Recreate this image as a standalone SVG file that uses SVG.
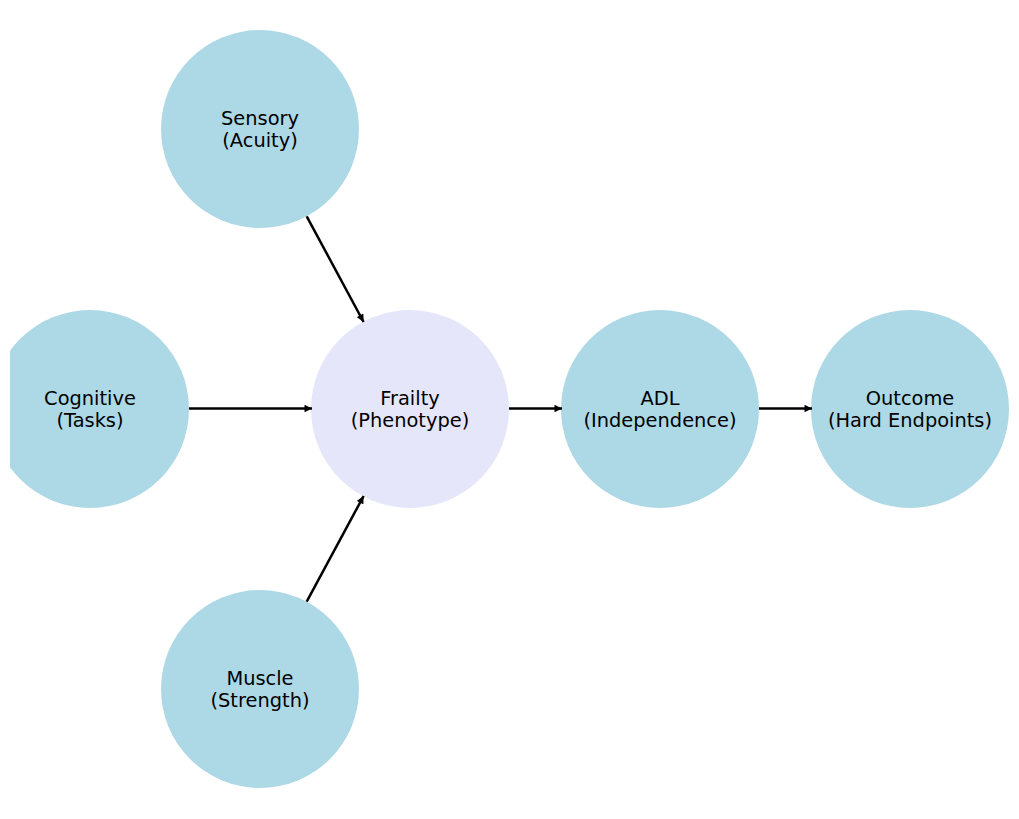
<svg xmlns="http://www.w3.org/2000/svg" width="1019" height="819" viewBox="0 0 1019 819">
<style>
.node{fill:#add8e6}
.center{fill:#e6e6fa}
.lbl{font-family:"DejaVu Sans",sans-serif;font-size:19.4px;fill:#000;text-anchor:middle}
.edge{stroke:#000;stroke-width:2.5;fill:none}
</style>
<defs>
<marker id="ah" viewBox="0 0 10 10" refX="10" refY="5" markerWidth="3.4" markerHeight="3" orient="auto" markerUnits="strokeWidth">
<path d="M0,0 L10,5 L0,10 Z" fill="#000"/>
</marker>
<clipPath id="ax"><rect x="10" y="0" width="1009" height="819"/></clipPath>
</defs>
<rect width="1019" height="819" fill="#fff"/>
<g clip-path="url(#ax)">
<g id="sensory"><circle class="node" cx="260" cy="129" r="99"/><text class="lbl" x="260" y="124.5">Sensory</text><text class="lbl" x="260" y="146.5">(Acuity)</text></g>
<g id="cognitive"><circle class="node" cx="90" cy="409" r="99"/><text class="lbl" x="90" y="404.5">Cognitive</text><text class="lbl" x="90" y="426.5">(Tasks)</text></g>
<g id="frailty"><circle class="center" cx="410" cy="409" r="99"/><text class="lbl" x="410" y="404.5">Frailty</text><text class="lbl" x="410" y="426.5">(Phenotype)</text></g>
<g id="adl"><circle class="node" cx="660" cy="409" r="99"/><text class="lbl" x="660" y="404.5">ADL</text><text class="lbl" x="660" y="426.5">(Independence)</text></g>
<g id="outcome"><circle class="node" cx="910" cy="409" r="99"/><text class="lbl" x="910" y="404.5">Outcome</text><text class="lbl" x="910" y="426.5">(Hard Endpoints)</text></g>
<g id="muscle"><circle class="node" cx="260" cy="689" r="99"/><text class="lbl" x="260" y="684.5">Muscle</text><text class="lbl" x="260" y="706.5">(Strength)</text></g>
</g>
<g id="edges">
<line class="edge" x1="306.7" y1="216.3" x2="363.6" y2="322" marker-end="url(#ah)"/>
<line class="edge" x1="189" y1="408.5" x2="312" y2="408.5" marker-end="url(#ah)"/>
<line class="edge" x1="306.7" y1="601.7" x2="363.6" y2="496" marker-end="url(#ah)"/>
<line class="edge" x1="509" y1="408.5" x2="562" y2="408.5" marker-end="url(#ah)"/>
<line class="edge" x1="759" y1="408.5" x2="812" y2="408.5" marker-end="url(#ah)"/>
</g>
</svg>
